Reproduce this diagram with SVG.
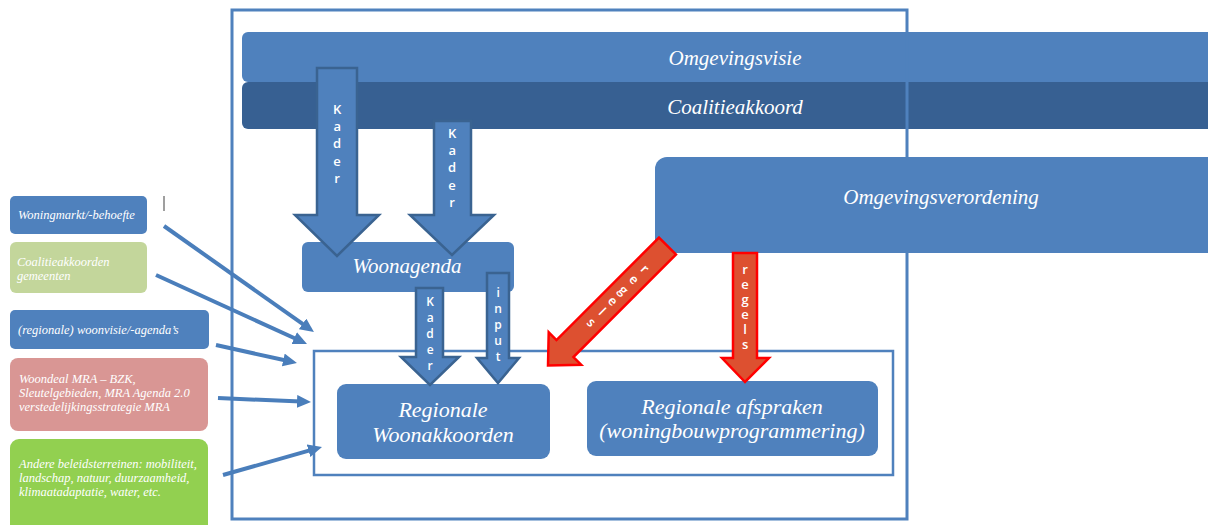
<svg xmlns="http://www.w3.org/2000/svg" width="1208" height="525" viewBox="0 0 1208 525">
<style>
.bar{fill:#4f81bd}
.bar2{fill:#376092}
.frame{fill:none;stroke:#4f81bd;stroke-width:3}
.inner{fill:none;stroke:#4f81bd;stroke-width:2.5}
.box{fill:#4f81bd}
.t{font-family:"Liberation Serif","DejaVu Serif",serif;font-style:italic;fill:#ffffff;text-anchor:middle;font-size:21px}
.r{font-size:22px}
.sm{font-family:"Liberation Serif","DejaVu Serif",serif;font-style:italic;font-size:12.5px;fill:#ffffff}
.ba{fill:#4f81bd;stroke:#3a6391;stroke-width:2.5}
.ra{fill:#dd5030;stroke:#ff0000;stroke-width:2.5}
.v{font-family:"Open Sans","Liberation Sans",sans-serif;font-weight:600;fill:#ffffff;text-anchor:middle;font-size:13px;writing-mode:vertical-rl;text-orientation:upright}
.k{letter-spacing:-0.9px}
.vs{font-size:12px;letter-spacing:-1px}
.rg{letter-spacing:-2.9px}
.con{stroke:#4a7ebb;stroke-width:4;fill:none;marker-end:url(#ah)}
</style>
<defs>
<marker id="ah" markerUnits="userSpaceOnUse" markerWidth="16" markerHeight="14" refX="4" refY="6.5" orient="auto">
<path d="M0,0 L14,6.5 L0,13 Z" fill="#4a7ebb"/>
</marker>
</defs>
<rect width="1208" height="525" fill="#ffffff"/>

<g id="omgevingsvisie">
<rect class="bar" x="242" y="32" width="990" height="50" rx="6"/>
<text class="t" x="735" y="65">Omgevingsvisie</text>
</g>
<g id="coalitieakkoord">
<rect class="bar2" x="242" y="82" width="990" height="47" rx="6"/>
<text class="t" x="735" y="114">Coalitieakkoord</text>
</g>

<g id="outer-frame">
<rect class="frame" x="232" y="10" width="675" height="509"/>
</g>

<g id="omgevingsverordening">
<rect class="box" x="655" y="157" width="575" height="96" rx="12"/>
<text class="t" x="941" y="204">Omgevingsverordening</text>
</g>

<g id="inner-frame">
<rect class="inner" x="314" y="351" width="579" height="124"/>
</g>

<g id="woningmarkt">
<rect x="10" y="196" width="137" height="38" rx="5" fill="#4f81bd"/>
<text class="sm" x="18" y="219">Woningmarkt/-behoefte</text>
</g>
<line x1="164" y1="196" x2="164" y2="211" stroke="#7f7f7f" stroke-width="1.5"/>

<g id="coalitieakkoorden-gemeenten">
<rect x="10" y="242" width="137" height="51" rx="6" fill="#c3d69b"/>
<text class="sm" x="17" y="266">Coalitieakkoorden</text>
<text class="sm" x="17" y="280">gemeenten</text>
</g>

<g id="regionale-woonvisie">
<rect x="10" y="310" width="199" height="39" rx="5" fill="#4f81bd"/>
<text class="sm" x="18" y="334">(regionale) woonvisie/-agenda’s</text>
</g>

<g id="woondeal">
<rect x="10" y="358" width="198" height="73" rx="8" fill="#d99694"/>
<text class="sm" x="19" y="383">Woondeal MRA – BZK,</text>
<text class="sm" x="19" y="397">Sleutelgebieden,  MRA Agenda 2.0</text>
<text class="sm" x="19" y="411">verstedelijkingsstrategie MRA</text>
</g>

<g id="andere-beleidsterreinen">
<rect x="10" y="439" width="198" height="100" rx="9" fill="#92d050"/>
<text class="sm" x="19" y="468">Andere beleidsterreinen: mobiliteit,</text>
<text class="sm" x="19" y="482">landschap, natuur, duurzaamheid,</text>
<text class="sm" x="19" y="496">klimaatadaptatie, water, etc.</text>
</g>

<g id="woonagenda">
<rect class="box" x="302" y="242" width="212" height="50" rx="6"/>
<text class="t" x="407" y="273">Woonagenda</text>
</g>

<g id="regionale-woonakkoorden">
<rect class="box" x="337" y="384" width="213" height="75" rx="9"/>
<text class="t r" x="443" y="417">Regionale</text>
<text class="t r" x="443" y="442">Woonakkoorden</text>
</g>

<g id="regionale-afspraken">
<rect class="box" x="587" y="381" width="291" height="75" rx="9"/>
<text class="t r" x="732" y="414">Regionale afspraken</text>
<text class="t r" x="732" y="438">(woningbouwprogrammering)</text>
</g>

<g id="connectors">
<line class="con" x1="164" y1="226" x2="305.8" y2="326.2"/>
<line class="con" x1="156" y1="275" x2="297.9" y2="339.8"/>
<line class="con" x1="216" y1="345" x2="287.2" y2="360.8"/>
<line class="con" x1="218" y1="398" x2="301" y2="401.6"/>
<line class="con" x1="223" y1="475" x2="312.4" y2="449.7"/>

<g id="kader-1">
<path class="ba" d="M317,68 L357,68 L357,215 L379,215 L337,256 L295,215 L317,215 Z"/>
<text class="v k" x="337" y="143">Kader</text>
</g>
<g id="kader-2">
<path class="ba" d="M434,121 L471,121 L471,215 L494,215 L452,255 L410,215 L434,215 Z"/>
<text class="v k" x="452" y="167">Kader</text>
</g>
<g id="kader-3">
<path class="ba" d="M416,288 L443,288 L443,357 L459,357 L430,385 L401,357 L416,357 Z"/>
<text class="v vs" x="430" y="333">Kader</text>
</g>
<g id="input">
<path class="ba" d="M487,273 L509,273 L509,358 L519,358 L498,383 L477,358 L487,358 Z"/>
<text class="v vs" x="498" y="324">input</text>
</g>
<g id="regels-diagonaal" transform="translate(667.5,246) rotate(45)">
<path class="ra" d="M-12,0 L12,0 L12,145 L23,145 L0,169 L-23,145 L-12,145 Z"/>
<text class="v rg" x="0" y="68">regels</text>
</g>
<g id="regels-verticaal">
<path class="ra" d="M733,253 L757,253 L757,358 L769,358 L745,382 L722,358 L733,358 Z"/>
<text class="v rg" x="745" y="305">regels</text>
</g>
</g>
</svg>
